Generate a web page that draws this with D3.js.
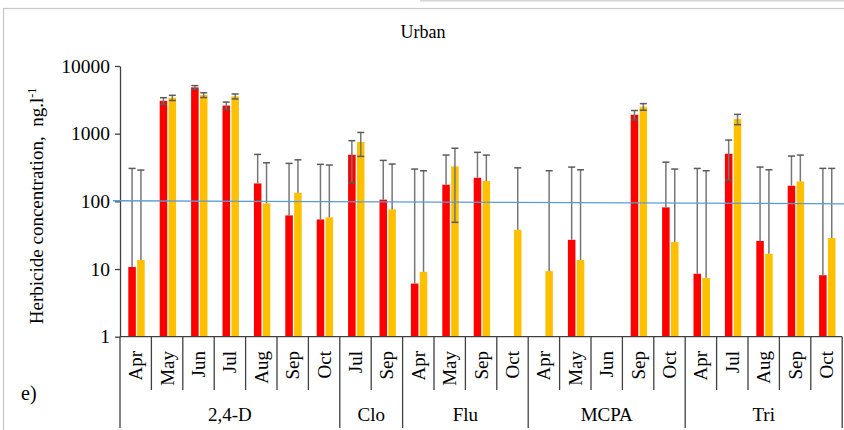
<!DOCTYPE html>
<html>
<head>
<meta charset="utf-8">
<script src="https://cdn.jsdelivr.net/npm/d3@7/dist/d3.min.js"></script>
<style>
body{margin:0;background:#fff}
svg{display:block}
text{font-family:"Liberation Serif","Times New Roman",serif}
</style>
</head>
<body>
<div id="chart"></div>
<script>
let herbicides = ['2,4-D','Clo','Flu','MCPA','Tri']
let months = [
	['Apr','May','Jun','Jul','Aug','Sep','Oct'],
	['Jul','Sep'],
	['Apr','May','Sep','Oct'],
	['Apr','May','Jun','Sep','Oct'],
	['Apr','Jul','Aug','Sep','Oct']
]
// one entry per month column, left to right, null = no bar
let redValues = [10.7,3060,4830,2600,184,62,54, 488,106, 6.1,176,223,null, null,27,null,1900,81.5, 8.5,505,26,170,8.1]
let redErrors = [296,340,300,330,310,302,298, 300,297, 294,307,307,null, null,294,null,300,298, 298,300,295,297,299]
let yellowValues = [13.6,3390,3720,3560,93.5,134,58, 752,76, 9.1,329,200,38, 9.3,13.6,null,2500,25, 7.4,1643,16.8,197,28.7]
let yellowErrors = [276,300,300,300,278,277,286, 290,280, 274,280,283,275, 274,279,null,280,275, 276,285,276,286,278]
let yTicks = [1,10,100,1000,10000]
let limitLine = [102,92]

let serif = '"Liberation Serif","Times New Roman",serif'
let width = 844, height = 430
let margin = {left:120, right:1.8, top:66, bottom:93.3}

let columns = []
herbicides.forEach((h,g)=>months[g].forEach(m=>columns.push({group:h, month:m, key:`${h}|${m}`})))
columns.forEach((c,i)=>{
	c.red = redValues[i]; c.redErr = redErrors[i]
	c.yellow = yellowValues[i]; c.yellowErr = yellowErrors[i]
})

let svg = d3.select('#chart').append('svg')
	.attr('width',width)
	.attr('height',height)
	.attr('font-family',serif)

// frame
svg.append('rect').attr('x',3.5).attr('y',8.5).attr('width',900).attr('height',500)
	.attr('fill','none').attr('stroke','#c6c6c6').attr('stroke-width',1.2)
svg.append('line').attr('x1',420).attr('x2',844).attr('y1',0.5).attr('y2',0.5)
	.attr('stroke','#d4d4d4').attr('stroke-width',2)

let x0 = d3.scaleBand()
	.domain(columns.map(c=>c.key))
	.range([margin.left, width - margin.right])
let x1 = d3.scaleBand()
	.domain(['red','yellow'])
	.range([8.3, 24.7])
	.paddingInner(0.15)
let y = d3.scaleLog()
	.domain([1,10000])
	.range([height - margin.bottom, margin.top])

let colours = {red:'#ff0000', yellow:'#ffc000'}

svg.append('text')
	.attr('x',423).attr('y',38)
	.attr('text-anchor','middle')
	.attr('font-family',serif)
	.attr('font-size',18)
	.text('Urban')

// y axis
let yAxis = svg.append('g')
	.attr('transform',`translate(${margin.left},0)`)
	.call(d3.axisLeft(y).tickValues(yTicks).tickFormat(d3.format('d')).tickSize(5).tickSizeOuter(0).tickPadding(5))
yAxis.attr('font-family',serif)
yAxis.selectAll('text').attr('font-size',19.5).attr('font-family',serif).attr('fill','#000')
yAxis.selectAll('line').attr('stroke','#404040').attr('stroke-width',1.3)
yAxis.select('.domain').attr('stroke','#404040').attr('stroke-width',1.3)

let title = svg.append('text')
	.attr('transform','translate(43,206) rotate(-90)')
	.attr('text-anchor','middle')
	.attr('font-family',serif)
	.attr('font-size',19)
title.append('tspan').text('Herbicide concentration,\u00a0 ng.l')
title.append('tspan').attr('font-size',12).attr('dy',-7).text('-1')

// bars
let series = ['red','yellow']
let bars = columns.flatMap(c=>series.filter(s=>c[s]!=null).map(s=>({key:c.key, s:s, v:c[s], e:c[`${s}Err`]})))

svg.append('g').selectAll('rect')
	.data(bars)
	.enter().append('rect')
	.attr('x',d=>x0(d.key)+x1(d.s))
	.attr('width',x1.bandwidth())
	.attr('y',d=>y(d.v))
	.attr('height',d=>y(1)-y(d.v))
	.attr('fill',d=>colours[d.s])

// error bars
let errG = svg.append('g').attr('stroke','#767676').attr('stroke-width',1.5)
bars.forEach(d=>{
	let cx = x0(d.key)+x1(d.s)+x1.bandwidth()/2
	let top = d.v + d.e
	let low = d.v - d.e
	let bottom = low > 1 ? low : d.v
	errG.append('line').attr('x1',cx).attr('x2',cx).attr('y1',y(top)).attr('y2',y(bottom))
	errG.append('line').attr('x1',cx-3.5).attr('x2',cx+3.5).attr('y1',y(top)).attr('y2',y(top)).attr('stroke','#5a5a5a')
	if(low > 1) errG.append('line').attr('x1',cx-3.5).attr('x2',cx+3.5).attr('y1',y(low)).attr('y2',y(low)).attr('stroke','#5a5a5a')
})

// 100 ng/l line
svg.append('line')
	.attr('x1',113).attr('x2',width)
	.attr('y1',y(limitLine[0])).attr('y2',y(limitLine[1]))
	.attr('stroke','#5b9bd5').attr('stroke-width',1.3)

// category axis
let base = y(1)
let catG = svg.append('g').attr('stroke','#404040').attr('stroke-width',1.3)
catG.append('line').attr('x1',margin.left).attr('x2',width-margin.right).attr('y1',base).attr('y2',base)

let starts = []
let idx = 0
months.forEach(ms=>{starts.push(idx); idx += ms.length})
columns.forEach((c,i)=>{
	if(i>0 && !starts.includes(i))
		catG.append('line').attr('x1',x0(c.key)).attr('x2',x0(c.key)).attr('y1',base).attr('y2',390)
})
starts.concat([columns.length]).forEach(i=>{
	let xx = i < columns.length ? x0(columns[i].key) : width - margin.right
	catG.append('line').attr('x1',xx).attr('x2',xx).attr('y1',base).attr('y2',428)
})

svg.append('g').selectAll('text')
	.data(columns)
	.enter().append('text')
	.attr('transform',d=>`translate(${x0(d.key)+x0.bandwidth()/2+6.5},351) rotate(-90)`)
	.attr('text-anchor','end')
	.attr('font-family',serif)
	.attr('font-size',19)
	.text(d=>d.month)

svg.append('g').selectAll('text')
	.data(herbicides)
	.enter().append('text')
	.attr('x',(d,g)=>{
		let first = columns[starts[g]].key
		let last = columns[starts[g]+months[g].length-1].key
		return (x0(first)+x0(last)+x0.bandwidth())/2
	})
	.attr('y',421)
	.attr('text-anchor','middle')
	.attr('font-family',serif)
	.attr('font-size',19)
	.text(d=>d)

svg.append('text')
	.attr('x',21).attr('y',400)
	.attr('font-family',serif)
	.attr('font-size',20)
	.text('e)')
</script>
</body>
</html>
